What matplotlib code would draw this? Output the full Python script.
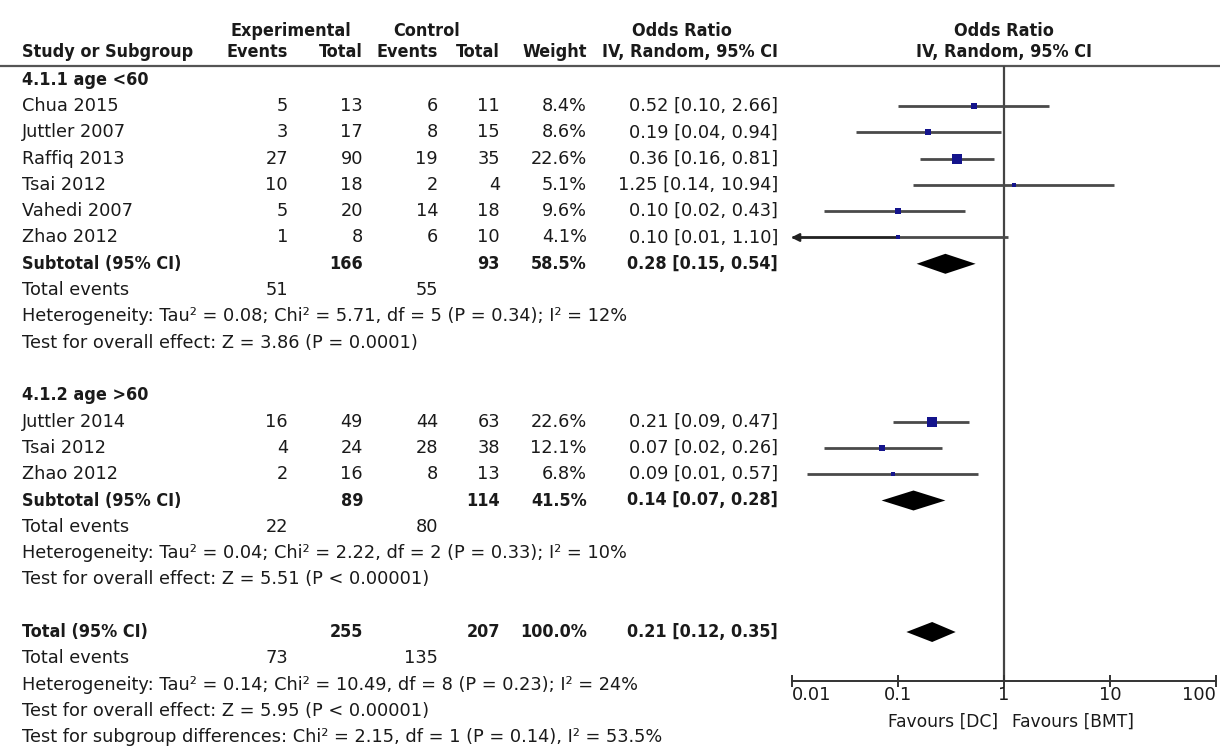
import numpy as np
import matplotlib
matplotlib.use("Agg")
import matplotlib.pyplot as plt

plt.rcParams['font.family'] = ['DejaVu Sans']

# ---------------- data ----------------
group1_label = "4.1.1 age <60"
group1_studies = ["Chua 2015", "Juttler 2007", "Raffiq 2013", "Tsai 2012", "Vahedi 2007", "Zhao 2012"]
group1_exp_events = [5, 3, 27, 10, 5, 1]
group1_exp_total = [13, 17, 90, 18, 20, 8]
group1_ctrl_events = [6, 8, 19, 2, 14, 6]
group1_ctrl_total = [11, 15, 35, 4, 18, 10]
group1_weight = [8.4, 8.6, 22.6, 5.1, 9.6, 4.1]
group1_or = [0.52, 0.19, 0.36, 1.25, 0.10, 0.10]
group1_lo = [0.10, 0.04, 0.16, 0.14, 0.02, 0.009]
group1_hi = [2.66, 0.94, 0.81, 10.94, 0.43, 1.10]
group1_sub = dict(exp_total=166, ctrl_total=93, weight=58.5, est=0.28, lo=0.15, hi=0.54,
                  exp_events=51, ctrl_events=55)
group1_het = "Heterogeneity: Tau² = 0.08; Chi² = 5.71, df = 5 (P = 0.34); I² = 12%"
group1_test = "Test for overall effect: Z = 3.86 (P = 0.0001)"

group2_label = "4.1.2 age >60"
group2_studies = ["Juttler 2014", "Tsai 2012", "Zhao 2012"]
group2_exp_events = [16, 4, 2]
group2_exp_total = [49, 24, 16]
group2_ctrl_events = [44, 28, 8]
group2_ctrl_total = [63, 38, 13]
group2_weight = [22.6, 12.1, 6.8]
group2_or = [0.21, 0.07, 0.09]
group2_lo = [0.09, 0.02, 0.014]
group2_hi = [0.47, 0.26, 0.57]
group2_sub = dict(exp_total=89, ctrl_total=114, weight=41.5, est=0.14, lo=0.07, hi=0.28,
                  exp_events=22, ctrl_events=80)
group2_het = "Heterogeneity: Tau² = 0.04; Chi² = 2.22, df = 2 (P = 0.33); I² = 10%"
group2_test = "Test for overall effect: Z = 5.51 (P < 0.00001)"

total_sub = dict(exp_total=255, ctrl_total=207, weight=100.0, est=0.21, lo=0.12, hi=0.35,
                 exp_events=73, ctrl_events=135)
total_het = "Heterogeneity: Tau² = 0.14; Chi² = 10.49, df = 8 (P = 0.23); I² = 24%"
total_test = "Test for overall effect: Z = 5.95 (P < 0.00001)"
subgroup_test = "Test for subgroup differences: Chi² = 2.15, df = 1 (P = 0.14), I² = 53.5%"

axis_ticks = [0.01, 0.1, 1, 10, 100]
axis_ticklabels = ["0.01", "0.1", "1", "10", "100"]
favours_left = "Favours [DC]"
favours_right = "Favours [BMT]"

# ---------------- layout ----------------
W, H = 1220, 749
fig = plt.figure(figsize=(W / 100, H / 100), dpi=100)
fig.patch.set_facecolor('white')

tax = fig.add_axes([0, 0, 1, 1])
tax.set_xlim(0, W)
tax.set_ylim(H, 0)
tax.axis('off')

TXT = '#1a1a1a'
FS = 12.8       # regular text
FSB = 12.9      # bold text (condensed)
BOLD_FAMILY = ['DejaVu Sans Condensed', 'DejaVu Sans']
ROW0, DY = 106, 26.3
LINE_Y = 66
AX_Y = 681
FX0, FX1 = 792, 1216

def ry(r):
    return ROW0 + DY * r

X_LABEL = 22
X_EE, X_ET, X_CE, X_CT, X_W, X_OR = 288, 363, 438, 500, 587, 778
X_RIGHT_CENTER = 1004

def t(x, y, s, ha='left', bold=False, fs=None):
    if bold:
        tax.text(x, y, s, ha=ha, va='center', fontsize=fs or FSB, color=TXT,
                 fontweight='bold', family=BOLD_FAMILY, fontstretch='condensed')
    else:
        tax.text(x, y, s, ha=ha, va='center', fontsize=fs or FS, color=TXT)

# headers
t(291, 31, "Experimental", ha='center', bold=True)
t(427, 31, "Control", ha='center', bold=True)
t(682, 31, "Odds Ratio", ha='center', bold=True)
t(X_RIGHT_CENTER, 31, "Odds Ratio", ha='center', bold=True)
t(X_LABEL, 52, "Study or Subgroup", bold=True)
t(X_EE, 52, "Events", ha='right', bold=True)
t(X_ET, 52, "Total", ha='right', bold=True)
t(X_CE, 52, "Events", ha='right', bold=True)
t(X_CT, 52, "Total", ha='right', bold=True)
t(X_W, 52, "Weight", ha='right', bold=True)
t(X_OR, 52, "IV, Random, 95% CI", ha='right', bold=True)
t(X_RIGHT_CENTER, 52, "IV, Random, 95% CI", ha='center', bold=True)
tax.axhline(LINE_Y, color='#555555', lw=1.6)

# forest axes
fax = fig.add_axes([FX0 / W, 1 - AX_Y / H, (FX1 - FX0) / W, (AX_Y - LINE_Y) / H])
fax.set_xscale('log')
fax.set_xlim(0.01, 100)
fax.set_ylim(AX_Y, LINE_Y)
fax.patch.set_alpha(0)
for sp in ['top', 'left', 'right']:
    fax.spines[sp].set_visible(False)
fax.spines['bottom'].set_color('#333333')
fax.spines['bottom'].set_linewidth(1.4)
fax.set_yticks([])
fax.set_xticks(axis_ticks)
fax.set_xticklabels(axis_ticklabels)
fax.xaxis.set_minor_locator(matplotlib.ticker.NullLocator())
fax.tick_params(axis='x', direction='inout', length=9, width=1.4, color='#333333',
                pad=-1, labelsize=FS, labelcolor=TXT)
tl = fax.get_xticklabels()
tl[0].set_horizontalalignment('left')
tl[-1].set_horizontalalignment('right')
fax.axvline(1, color='#444444', lw=1.6, zorder=1)

LINE_C = '#4a4a4a'
SQ_C = '#14148c'

def fmt_or(e, lo, hi):
    return f"{e:.2f} [{lo:.2f}, {hi:.2f}]"

def study_rows(r0, names, ee, et, ce, ct, w, est, lo, hi):
    for i in range(len(names)):
        y = ry(r0 + i)
        t(X_LABEL, y, names[i])
        t(X_EE, y, str(ee[i]), ha='right')
        t(X_ET, y, str(et[i]), ha='right')
        t(X_CE, y, str(ce[i]), ha='right')
        t(X_CT, y, str(ct[i]), ha='right')
        t(X_W, y, f"{w[i]:.1f}%", ha='right')
        t(X_OR, y, fmt_or(est[i], lo[i], hi[i]), ha='right')
        lo_d = max(lo[i], 0.01)
        fax.hlines(y, lo_d, hi[i], color=LINE_C, lw=2.0, zorder=2)
        if lo[i] < 0.01:
            fax.annotate('', xy=(0.0098, y), xytext=(est[i], y),
                         arrowprops=dict(arrowstyle='-|>', color='#222222', lw=1.6,
                                         mutation_scale=12, shrinkA=0, shrinkB=0),
                         annotation_clip=False, zorder=3)
        fax.scatter([est[i]], [y], marker='s', s=1.9 * w[i], color=SQ_C, zorder=4,
                    linewidths=0)

def diamond(y, e, lo, hi, h=10):
    fax.fill([lo, e, hi, e], [y, y - h, y, y + h], color='black', zorder=4, lw=0)

def summary_row(r, label, d):
    y = ry(r)
    t(X_LABEL, y, label, bold=True)
    t(X_ET, y, str(d['exp_total']), ha='right', bold=True)
    t(X_CT, y, str(d['ctrl_total']), ha='right', bold=True)
    t(X_W, y, f"{d['weight']:.1f}%", ha='right', bold=True)
    t(X_OR, y, fmt_or(d['est'], d['lo'], d['hi']), ha='right', bold=True)
    diamond(y, d['est'], d['lo'], d['hi'])
    ye = ry(r + 1)
    t(X_LABEL, ye, "Total events")
    t(X_EE, ye, str(d['exp_events']), ha='right')
    t(X_CE, ye, str(d['ctrl_events']), ha='right')

# group 1
t(X_LABEL, ry(-1), group1_label, bold=True)
study_rows(0, group1_studies, group1_exp_events, group1_exp_total, group1_ctrl_events,
           group1_ctrl_total, group1_weight, group1_or, group1_lo, group1_hi)
summary_row(6, "Subtotal (95% CI)", group1_sub)
t(X_LABEL, ry(8), group1_het)
t(X_LABEL, ry(9), group1_test)

# group 2
t(X_LABEL, ry(11), group2_label, bold=True)
study_rows(12, group2_studies, group2_exp_events, group2_exp_total, group2_ctrl_events,
           group2_ctrl_total, group2_weight, group2_or, group2_lo, group2_hi)
summary_row(15, "Subtotal (95% CI)", group2_sub)
t(X_LABEL, ry(17), group2_het)
t(X_LABEL, ry(18), group2_test)

# total
summary_row(20, "Total (95% CI)", total_sub)
t(X_LABEL, ry(22), total_het)
t(X_LABEL, ry(23), total_test)
t(X_LABEL, ry(24), subgroup_test)

# favours labels
t(998, 722, favours_left, ha='right', fs=12.3)
t(1012, 722, favours_right, ha='left', fs=12.3)

fig.savefig("out.png", dpi=100, facecolor='white')
